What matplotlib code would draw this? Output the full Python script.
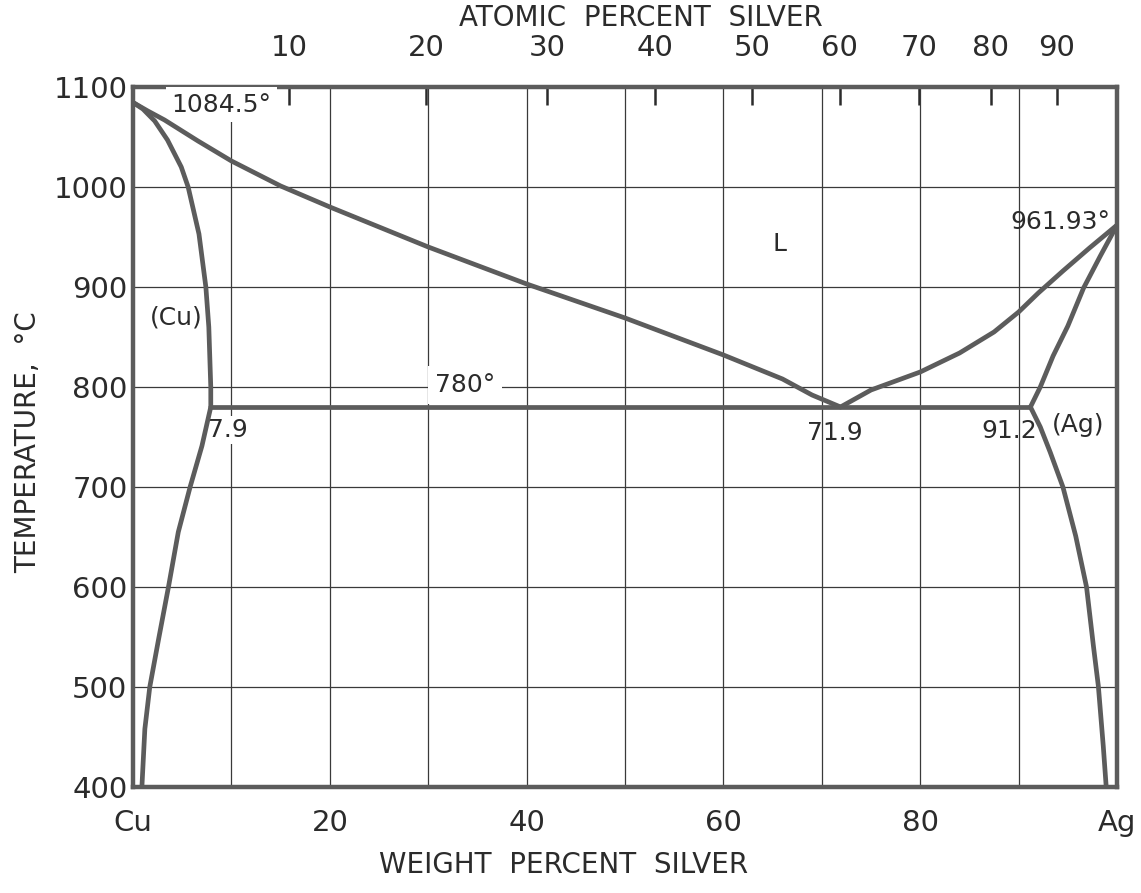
import numpy as np
import matplotlib
matplotlib.use("Agg")
import matplotlib.pyplot as plt

# Cu-Ag phase diagram
# liquidus, Cu side (wt% Ag, deg C)
liq_cu_wt = [0, 1.5, 3.2, 6.6, 10, 15, 20, 30, 40, 50, 60, 66, 69, 71.9]
liq_cu_t = [1084.5, 1076, 1067, 1046, 1026, 1001, 980, 940, 903, 869, 832, 808, 792, 780]

# liquidus, Ag side
liq_ag_wt = [71.9, 75, 80, 84, 87.5, 90, 92, 94.5, 97.2, 100]
liq_ag_t = [780, 797, 815, 834, 855, 875, 894, 916, 939, 961.93]

# solidus of (Cu)
sol_cu_wt = [0, 1.0, 2.2, 3.5, 4.9, 5.6, 6.7, 7.4, 7.7, 7.9, 7.9]
sol_cu_t = [1084.5, 1078, 1066, 1047, 1020, 1000, 953, 900, 860, 800, 780]

# solvus of (Cu)
solv_cu_wt = [7.9, 7.0, 5.8, 4.6, 3.6, 2.6, 1.7, 1.2, 0.9]
solv_cu_t = [780, 741, 700, 655, 600, 548, 500, 458, 400]

# solidus of (Ag)
sol_ag_wt = [91.2, 92.2, 93.5, 95.0, 96.6, 98.3, 100]
sol_ag_t = [780, 800, 831, 861, 899, 931, 961.93]

# solvus of (Ag)
solv_ag_wt = [91.2, 92.2, 93.2, 94.5, 95.8, 96.9, 97.6, 98.1, 98.6, 98.9]
solv_ag_t = [780, 760, 735, 700, 651, 600, 541, 501, 441, 400]

# eutectic line
eut_wt = [7.9, 91.2]
eut_t = [780, 780]

bottom_ticks = [0, 20, 40, 60, 80, 100]
bottom_labels = ["Cu", "20", "40", "60", "80", "Ag"]
top_ticks = [10, 20, 30, 40, 50, 60, 70, 80, 90]
y_ticks = [400, 500, 600, 700, 800, 900, 1000, 1100]

M_CU = 63.546
M_AG = 107.87


def wt_to_at(w):
    w = np.clip(np.asarray(w, dtype=float), 0, 100)
    a = w / M_AG
    c = (100 - w) / M_CU
    return 100 * a / (a + c)


def at_to_wt(x):
    x = np.clip(np.asarray(x, dtype=float), 0, 100)
    a = x * M_AG
    c = (100 - x) * M_CU
    return 100 * a / (a + c)


txt = "#2b2b2b"
line_c = "#5c5c5c"

fig = plt.figure(figsize=(11.41, 8.93), dpi=100)
ax = fig.add_axes([0.1166, 0.1187, 0.8624, 0.7839])

ax.set_xlim(0, 100)
ax.set_ylim(400, 1100)

# grid every 10 wt% and every 100 degrees
ax.set_xticks(bottom_ticks)
ax.set_xticklabels(bottom_labels)
ax.set_xticks(range(10, 100, 20), minor=True)
ax.set_yticks(y_ticks)
ax.grid(True, which="both", color="#3a3a3a", lw=0.9, zorder=0)
ax.tick_params(axis="both", which="both", length=0, labelsize=21, labelcolor=txt)
ax.tick_params(axis="x", pad=16)
ax.tick_params(axis="y", pad=4)

for s in ax.spines.values():
    s.set_linewidth(3.2)
    s.set_color(line_c)

kw = dict(color=line_c, lw=3.4, solid_capstyle="round", solid_joinstyle="round", zorder=5)
ax.plot(liq_cu_wt, liq_cu_t, **kw)
ax.plot(liq_ag_wt, liq_ag_t, **kw)
ax.plot(sol_cu_wt, sol_cu_t, **kw)
ax.plot(solv_cu_wt, solv_cu_t, **kw)
ax.plot(sol_ag_wt, sol_ag_t, **kw)
ax.plot(solv_ag_wt, solv_ag_t, **kw)
ax.plot(eut_wt, eut_t, **kw)

# top axis in atomic percent
sec = ax.secondary_xaxis("top", functions=(wt_to_at, at_to_wt))
sec.set_xticks(top_ticks)
sec.tick_params(direction="in", length=13, width=1.8, color=txt, labelsize=21,
                labelcolor=txt, pad=18)
sec.spines["top"].set_linewidth(0)

# axis titles placed where the reference has them
fig.text(0.562, 0.980, "ATOMIC  PERCENT  SILVER", fontsize=20, color=txt,
         ha="center", va="center")
fig.text(0.494, 0.031, "WEIGHT  PERCENT  SILVER", fontsize=20, color=txt,
         ha="center", va="center")
fig.text(0.025, 0.505, "TEMPERATURE,  °C", fontsize=20, color=txt,
         ha="center", va="center", rotation=90)

fs = 18
ax.text(3.9, 1082, "1084.5°", fontsize=fs, color=txt, ha="left", va="center",
        bbox=dict(facecolor="white", edgecolor="none", pad=4), zorder=3)
ax.text(65.7, 943, "L", fontsize=fs, color=txt, ha="center", va="center")
ax.text(99.3, 965, "961.93°", fontsize=fs, color=txt, ha="right", va="center")
ax.text(4.4, 869, "(Cu)", fontsize=fs, color=txt, ha="center", va="center")
ax.text(33.7, 802, "780°", fontsize=fs, color=txt, ha="center", va="center",
        bbox=dict(facecolor="white", edgecolor="none", pad=5), zorder=3)
ax.text(9.6, 757, "7.9", fontsize=fs, color=txt, ha="center", va="center",
        bbox=dict(facecolor="white", edgecolor="none", pad=1.5), zorder=3)
ax.text(71.3, 754, "71.9", fontsize=fs, color=txt, ha="center", va="center")
ax.text(89.0, 756, "91.2", fontsize=fs, color=txt, ha="center", va="center")
ax.text(96.0, 762, "(Ag)", fontsize=fs, color=txt, ha="center", va="center")

fig.savefig("out.png", dpi=100)
